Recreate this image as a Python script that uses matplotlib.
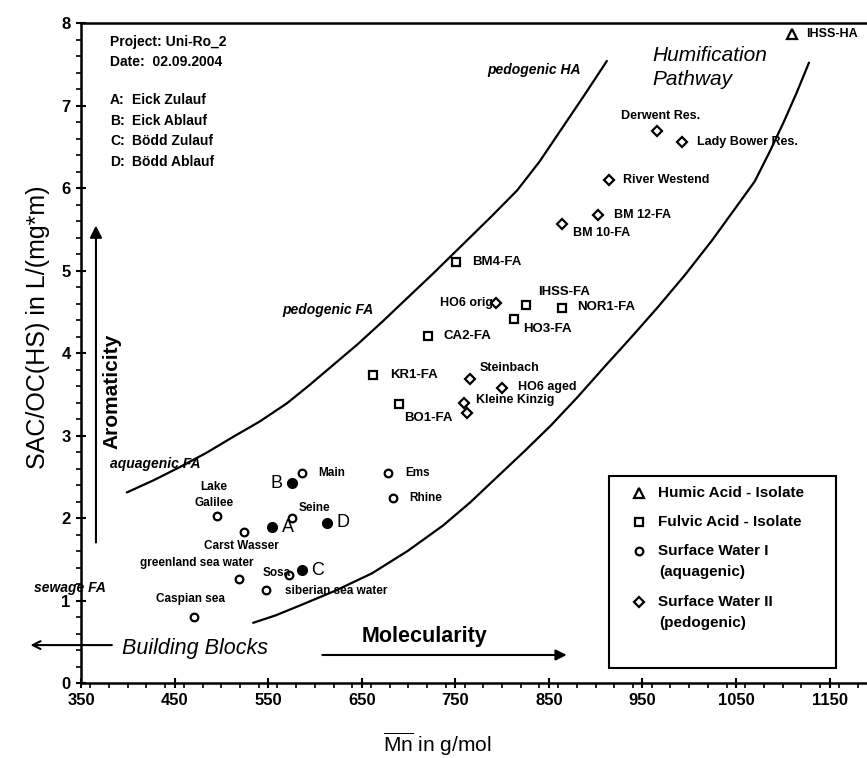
import matplotlib
matplotlib.use("Agg")
import matplotlib.pyplot as plt
from matplotlib.patches import Rectangle
from matplotlib.ticker import MultipleLocator

plt.rcParams['font.family'] = ['Liberation Sans', 'DejaVu Sans']
plt.rcParams['mathtext.fontset'] = 'custom'
plt.rcParams['mathtext.rm'] = 'Liberation Sans'
plt.rcParams['mathtext.it'] = 'Liberation Sans:italic'

# humic acid isolate
ha_names = ['IHSS-HA']
ha_mn = [1110]
ha_sac = [7.87]

# fulvic acid isolates
fa_names = ['BM4-FA', 'IHSS-FA', 'NOR1-FA', 'HO3-FA', 'CA2-FA', 'KR1-FA', 'BO1-FA']
fa_mn = [751, 826, 864, 813, 721, 662, 690]
fa_sac = [5.10, 4.58, 4.55, 4.41, 4.21, 3.73, 3.38]

# surface water II (pedogenic)
sw2_names = ['Derwent Res.', 'Lady Bower Res.', 'River Westend', 'BM 12-FA', 'BM 10-FA',
             'HO6 orig', 'Steinbach', 'HO6 aged', 'Kleine Kinzig', '']
sw2_mn = [966, 992, 914, 902, 864, 794, 766, 800, 759, 762]
sw2_sac = [6.69, 6.56, 6.10, 5.67, 5.57, 4.61, 3.68, 3.58, 3.39, 3.27]

# surface water I (aquagenic)
sw1_names = ['Main', 'Ems', 'Rhine', 'Lake\nGalilee', 'Seine', 'Carst Wasser', 'Sosa',
             'greenland sea water', 'siberian sea water', 'Caspian sea']
sw1_mn = [586, 678, 683, 495, 576, 524, 572, 519, 548, 471]
sw1_sac = [2.54, 2.54, 2.24, 2.02, 2.00, 1.83, 1.31, 1.26, 1.13, 0.80]

# project samples
smp_names = ['A', 'B', 'C', 'D']
smp_mn = [554, 575, 586, 613]
smp_sac = [1.89, 2.42, 1.37, 1.94]
smp_desc = ['Eick Zulauf', 'Eick Ablauf', 'Bödd Zulauf', 'Bödd Ablauf']

# boundary lines of the humification band (hand drawn)
upper_mn = [399, 428, 456, 484, 512, 541, 570, 594, 619, 646, 673, 699,
            726, 744, 762, 789, 816, 840, 862, 887, 912]
upper_sac = [2.31, 2.46, 2.62, 2.79, 2.98, 3.17, 3.39, 3.61, 3.85, 4.11, 4.39, 4.67,
             4.96, 5.16, 5.36, 5.66, 5.97, 6.32, 6.69, 7.11, 7.54]
lower_mn = [534, 558, 584, 622, 661, 699, 737, 766, 794, 823, 852, 881, 910,
            938, 966, 995, 1024, 1047, 1070, 1086, 1101, 1115, 1128]
lower_sac = [0.73, 0.82, 0.94, 1.12, 1.33, 1.60, 1.91, 2.19, 2.49, 2.80, 3.12, 3.47, 3.84,
             4.19, 4.55, 4.94, 5.36, 5.72, 6.08, 6.44, 6.80, 7.16, 7.52]

# legend entries
leg_markers = ['^', 's', 'o', 'D']
leg_sizes = [7, 5.5, 5.5, 5]
leg_labels = ['Humic Acid - Isolate', 'Fulvic Acid - Isolate', 'Surface Water I',
              'Surface Water II']
leg_sub = ['', '', '(aquagenic)', '(pedogenic)']

# label offsets in pixels (dx, dy, ha)
ha_off = [(14, 0, 'left')]
fa_off = [(16, 0, 'left'), (12, 13, 'left'), (15, 1, 'left'), (9, -10, 'left'),
          (15, 0, 'left'), (17, 0, 'left'), (5, -14, 'left')]
sw2_off = [(-36, 15, 'left'), (15, 0, 'left'), (14, 0, 'left'), (16, 0, 'left'),
           (11, -9, 'left'), (-3, 0, 'right'), (9, 11, 'left'), (16, 1, 'left'),
           (12, 3, 'left'), (0, 0, 'left')]
sw1_off = [(16, 0, 'left'), (17, 0, 'left'), (17, 0, 'left'), (-3, 21, 'center'),
           (6, 10, 'left'), (-2, -14, 'center'), (2, 2, 'right'), (-42, 16, 'center'),
           (19, -1, 'left'), (-4, 18, 'center')]
smp_off = [(10, 0, 'left'), (-9, 0, 'right'), (9, 0, 'left'), (9, 0, 'left')]

fig = plt.figure(figsize=(8.67, 7.58), dpi=100)
ax = fig.add_axes([0.0934, 0.0989, 0.9066, 0.8707])
ax.set_xlim(350, 1190)
ax.set_ylim(0, 8)

ax.plot(upper_mn, upper_sac, color='black', lw=1.6, solid_capstyle='round')
ax.plot(lower_mn, lower_sac, color='black', lw=1.6, solid_capstyle='round')

mk = dict(linestyle='none', color='black', mfc='white', mew=1.6)
ax.plot(ha_mn, ha_sac, marker='^', ms=7, **mk)
ax.plot(fa_mn, fa_sac, marker='s', ms=5.5, **mk)
ax.plot(sw2_mn, sw2_sac, marker='D', ms=5, **mk)
ax.plot(sw1_mn, sw1_sac, marker='o', ms=5.5, **mk)
ax.plot(smp_mn, smp_sac, marker='o', ms=7, linestyle='none', color='black')


def label_points(names, xs, ys, offs, size, weight='bold'):
    for n, x, y, (dx, dy, ha) in zip(names, xs, ys, offs):
        if not n:
            continue
        ax.annotate(n, (x, y), xytext=(dx, dy), textcoords='offset pixels',
                    ha=ha, va='center', fontsize=size, fontweight=weight,
                    multialignment='center', linespacing=1.45)


label_points(ha_names, ha_mn, ha_sac, ha_off, 9)
label_points(fa_names, fa_mn, fa_sac, fa_off, 9.5)
label_points(sw2_names, sw2_mn, sw2_sac, sw2_off, 9)
label_points(sw1_names, sw1_mn, sw1_sac, sw1_off, 8.5)
label_points(smp_names, smp_mn, smp_sac, smp_off, 13, 'normal')

# project header
tx = 0.0369
ax.text(tx, 0.971, 'Project: Uni-Ro_2', transform=ax.transAxes, fontsize=10,
        fontweight='bold', va='center')
ax.text(tx, 0.941, 'Date:  02.09.2004', transform=ax.transAxes, fontsize=10,
        fontweight='bold', va='center')
for i, (s, d) in enumerate(zip(smp_names, smp_desc)):
    yy = 0.883 - i * 0.031
    ax.text(tx, yy, s + ':', transform=ax.transAxes, fontsize=10,
            fontweight='bold', va='center')
    ax.text(tx + 0.028, yy, d, transform=ax.transAxes, fontsize=10,
            fontweight='bold', va='center')

# region names
bi = dict(fontweight='bold', fontstyle='italic', fontsize=10, va='center')
ax.text(784, 7.43, 'pedogenic HA', **bi)
ax.text(565, 4.52, 'pedogenic FA', **bi)
ax.text(381, 2.66, 'aquagenic FA', **bi)
ax.text(300, 1.15, 'sewage FA', **bi)
ax.text(961, 7.46, 'Humification\nPathway', fontstyle='italic', fontsize=15,
        va='center', linespacing=1.3)

# direction arrows
ax.annotate('', xy=(366, 5.58), xytext=(366, 1.67), annotation_clip=False,
            arrowprops=dict(arrowstyle='-|>', color='black', lw=1.5,
                            mutation_scale=18))
ax.text(383, 3.54, 'Aromaticity', rotation=90, fontsize=15, fontweight='bold',
        ha='center', va='center')
ax.annotate('', xy=(293, 0.46), xytext=(386, 0.46), annotation_clip=False,
            arrowprops=dict(arrowstyle='->', color='black', lw=1.5,
                            mutation_scale=14))
ax.text(394, 0.42, 'Building Blocks', fontstyle='italic', fontsize=15.5, va='center')
ax.annotate('', xy=(872, 0.34), xytext=(605, 0.34), annotation_clip=False,
            arrowprops=dict(arrowstyle='-|>', color='black', lw=1.5,
                            mutation_scale=16))
ax.text(650, 0.57, 'Molecularity', fontsize=15.5, fontweight='bold', va='center')

# legend box
ax.add_patch(Rectangle((0.672, 0.0227), 0.2888, 0.2909, transform=ax.transAxes,
                       fill=False, lw=1.5, ec='black', zorder=3))
ly = 0.2879
for m, s, lab, sub in zip(leg_markers, leg_sizes, leg_labels, leg_sub):
    ax.plot([0.710], [ly], marker=m, ms=s, transform=ax.transAxes, clip_on=False, **mk)
    ax.text(0.734, ly, lab, transform=ax.transAxes, fontsize=11,
            fontweight='bold', va='center')
    if sub:
        ax.text(0.736, ly - 0.032, sub, transform=ax.transAxes, fontsize=11,
                fontweight='bold', va='center')
        ly -= 0.0773
    else:
        ly -= 0.044

# axes styling
for side in ('left', 'bottom', 'top'):
    ax.spines[side].set_linewidth(1.8)
ax.spines['right'].set_visible(False)
ax.xaxis.set_minor_locator(MultipleLocator(20))
ax.yaxis.set_major_locator(MultipleLocator(1))
ax.yaxis.set_minor_locator(MultipleLocator(0.2))
ax.set_xticks(range(350, 1151, 100))
ax.tick_params(which='major', direction='inout', length=7, width=1.5,
               labelsize=12, pad=4)
ax.tick_params(which='minor', direction='out', length=3.5, width=1.2)
ax.tick_params(top=False, right=False, which='both')
for lbl in ax.get_xticklabels() + ax.get_yticklabels():
    lbl.set_fontweight('bold')

ax.set_xlabel(r'$\overline{\mathrm{Mn}}$ in g/mol', fontsize=15)
ax.xaxis.set_label_coords(0.453, -0.072)
ax.set_ylabel('SAC/OC(HS) in L/(mg*m)', fontsize=18)
ax.yaxis.set_label_coords(-0.039, 0.539)

fig.savefig('out.png', dpi=100)
